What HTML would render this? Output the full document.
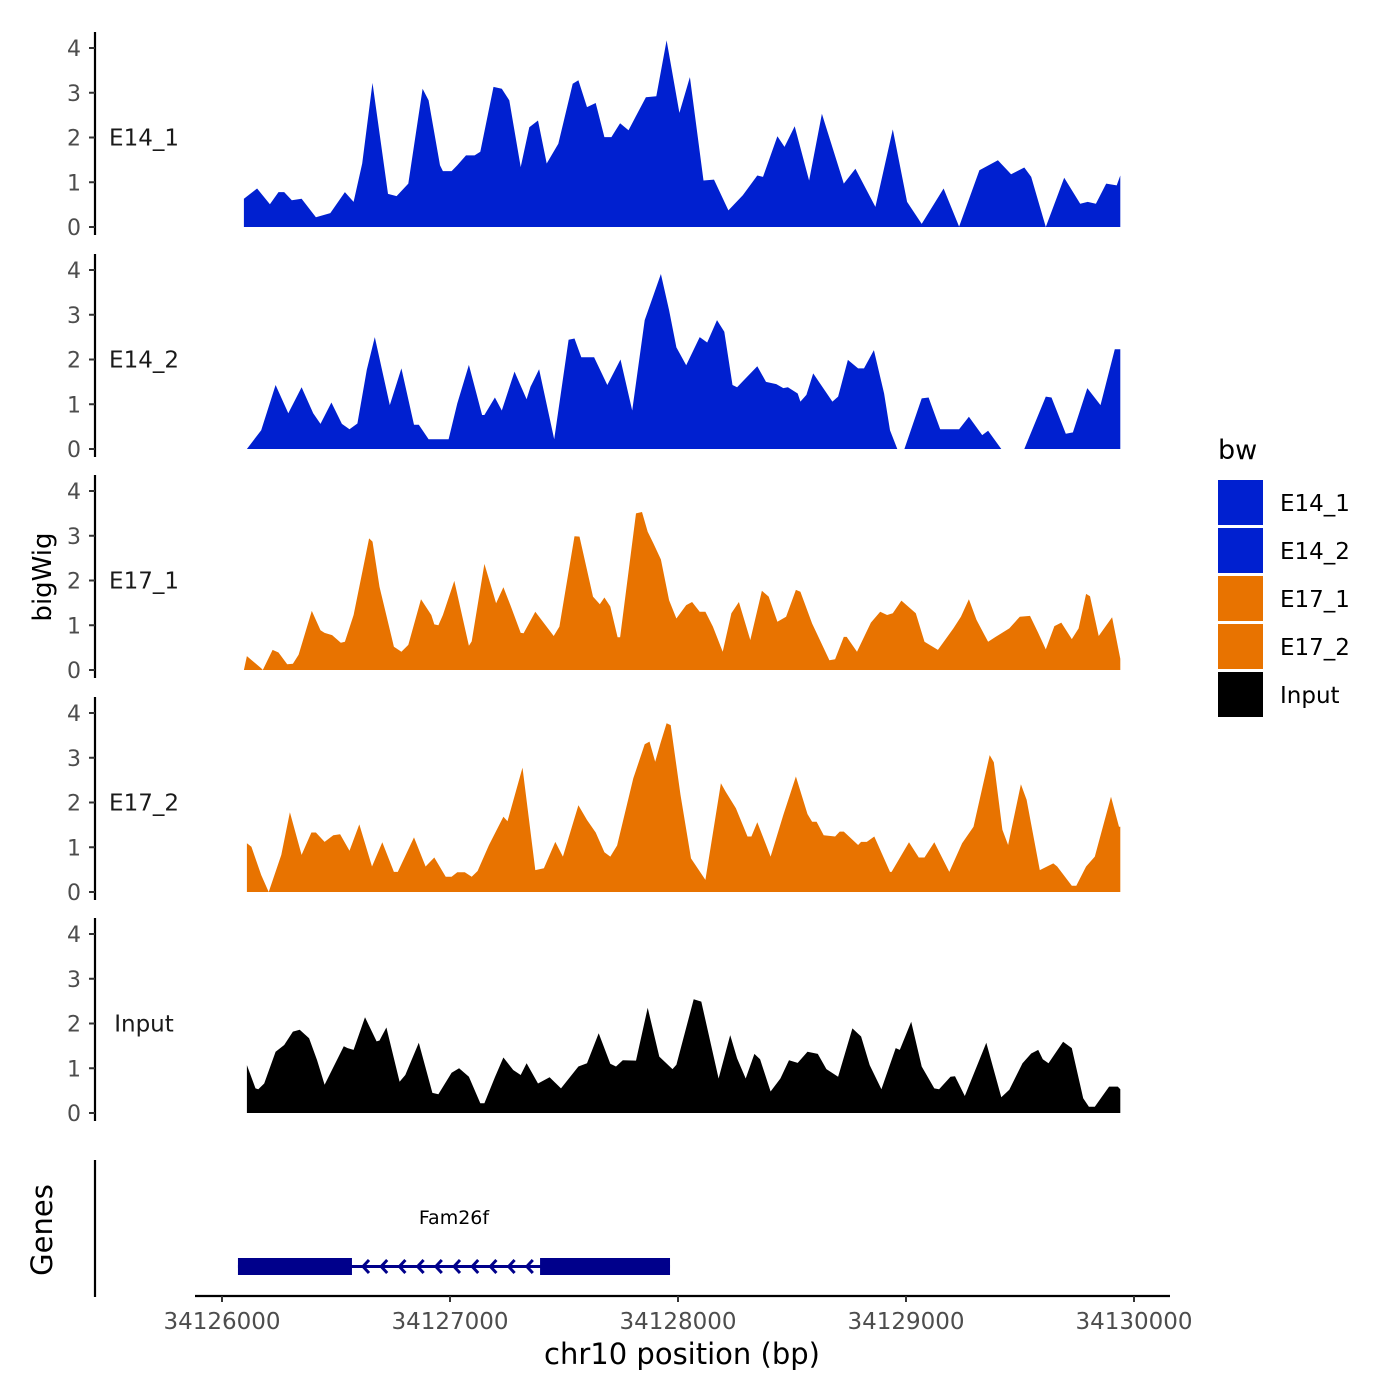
<!DOCTYPE html>
<html><head><meta charset="utf-8"><style>
html,body{margin:0;padding:0;background:#fff;}
svg{display:block;font-family:"DejaVu Sans","Liberation Sans",sans-serif;}
</style></head><body>
<svg id="chart" width="1400" height="1400" viewBox="0 0 1400 1400">
<g id="panels"></g>
<g id="genes"></g>
<g id="xaxis"></g>
<text x="51" y="577" font-size="26" text-anchor="middle" transform="rotate(-90 51 577)">bigWig</text>
<text x="52" y="1230" font-size="29" text-anchor="middle" transform="rotate(-90 52 1230)">Genes</text>
<text x="682" y="1364" font-size="29" text-anchor="middle">chr10 position (bp)</text>
<g id="legend"></g>
</svg>
<script>
const START = 34126000;
const trackNames = ["E14_1","E14_2","E17_1","E17_2","Input"];
const trackColors = ["#0020D0","#0020D0","#E87300","#E87300","#000000"];
const yTicks = [0,1,2,3,4];
const xTicks = [34126000,34127000,34128000,34129000,34130000];

const pos1 = [96,154,210,248,273,306,349,412,475,539,577,615,660,728,766,817,880,906,956,969,1007,1032,1070,1108,1133,1191,1227,1260,1310,1348,1386,1424,1475,1538,1563,1601,1639,1677,1708,1746,1783,1859,1905,1950,2006,2052,2112,2158,2221,2284,2348,2373,2436,2467,2512,2575,2631,2727,2778,2866,2942,3005,3069,3165,3233,3322,3403,3461,3519,3549,3613,3694,3764,3797,3833,3878,3924,3940];
const val1 = [0.63,0.86,0.51,0.78,0.78,0.6,0.63,0.22,0.31,0.78,0.56,1.42,3.22,0.74,0.69,0.97,3.09,2.83,1.38,1.25,1.25,1.38,1.6,1.6,1.68,3.13,3.09,2.83,1.34,2.23,2.38,1.42,1.86,3.2,3.28,2.68,2.77,2.01,2.01,2.32,2.16,2.9,2.92,4.17,2.55,3.35,1.04,1.06,0.37,0.71,1.15,1.12,2.03,1.79,2.25,1.04,2.53,0.97,1.3,0.45,2.18,0.56,0.07,0.86,0.01,1.27,1.49,1.18,1.33,1.12,0,1.1,0.52,0.56,0.52,0.97,0.93,1.15];

const pos2 = [109,172,235,291,349,400,432,480,526,559,594,635,670,736,787,842,863,906,994,1032,1083,1141,1151,1197,1227,1283,1336,1353,1391,1457,1520,1546,1576,1632,1690,1748,1799,1854,1925,1961,1993,2036,2095,2128,2171,2203,2239,2259,2348,2386,2431,2462,2482,2525,2537,2563,2593,2677,2702,2745,2790,2816,2859,2904,2930,2962,2993,3069,3099,3150,3233,3276,3334,3360,3418,3519,3613,3638,3701,3732,3795,3853,3916,3940];
const val2 = [0,0.42,1.43,0.8,1.38,0.8,0.56,1.04,0.56,0.44,0.57,1.77,2.5,0.98,1.8,0.54,0.54,0.22,0.22,1.02,1.88,0.76,0.76,1.15,0.86,1.73,1.11,1.39,1.78,0.22,2.44,2.47,2.05,2.05,1.43,2.0,0.86,2.88,3.91,3.1,2.27,1.87,2.5,2.38,2.88,2.62,1.43,1.38,1.85,1.5,1.45,1.36,1.38,1.24,1.06,1.21,1.69,1.06,1.17,1.99,1.8,1.8,2.21,1.24,0.42,0,0,1.13,1.15,0.44,0.44,0.72,0.31,0.41,0,0,1.17,1.15,0.34,0.37,1.36,0.98,2.23,2.23];

const pos3 = [96,109,172,179,222,248,286,311,336,394,432,450,483,521,539,577,645,660,691,754,787,817,873,918,931,949,969,1019,1083,1095,1151,1202,1234,1267,1310,1323,1374,1455,1480,1546,1568,1627,1657,1677,1703,1735,1746,1816,1842,1867,1892,1925,1961,1993,2036,2062,2095,2120,2153,2196,2234,2267,2317,2368,2398,2436,2474,2517,2537,2588,2664,2689,2727,2740,2785,2846,2887,2917,2942,2980,3018,3043,3081,3140,3208,3241,3276,3309,3360,3393,3453,3499,3544,3580,3613,3651,3681,3727,3757,3790,3807,3845,3904,3940];
const val3 = [0,0.31,0.04,0,0.45,0.39,0.13,0.14,0.34,1.32,0.89,0.83,0.78,0.61,0.63,1.23,2.94,2.87,1.86,0.52,0.41,0.56,1.58,1.23,1.02,1.0,1.23,1.99,0.54,0.64,2.37,1.49,1.85,1.42,0.83,0.82,1.3,0.76,0.97,2.99,2.98,1.64,1.47,1.62,1.42,0.73,0.73,3.5,3.53,3.09,2.83,2.47,1.56,1.15,1.45,1.52,1.3,1.3,0.97,0.41,1.27,1.52,0.67,1.77,1.64,1.08,1.19,1.79,1.75,1.04,0.22,0.24,0.74,0.74,0.41,1.06,1.3,1.23,1.27,1.55,1.38,1.27,0.63,0.45,0.93,1.19,1.58,1.12,0.63,0.74,0.93,1.19,1.21,0.83,0.46,0.98,1.06,0.69,0.93,1.7,1.65,0.76,1.18,0.25];

const pos4 = [109,129,172,205,260,298,349,392,412,450,488,518,559,602,658,703,754,771,842,893,931,981,1007,1032,1065,1095,1121,1171,1234,1252,1318,1374,1412,1462,1495,1563,1601,1639,1677,1703,1733,1804,1854,1875,1900,1923,1950,1968,2011,2057,2120,2188,2209,2254,2305,2322,2348,2406,2462,2517,2568,2588,2608,2639,2689,2709,2727,2790,2803,2828,2861,2930,2937,3013,3056,3081,3124,3190,3246,3296,3367,3385,3423,3448,3504,3529,3587,3646,3663,3727,3747,3790,3828,3899,3934,3940];
const val4 = [1.09,1.01,0.38,0,0.83,1.78,0.83,1.33,1.33,1.12,1.27,1.29,0.92,1.51,0.57,1.11,0.45,0.45,1.22,0.57,0.77,0.34,0.34,0.44,0.44,0.34,0.47,1.05,1.68,1.58,2.78,0.49,0.53,1.12,0.79,1.94,1.61,1.33,0.89,0.79,1.04,2.54,3.3,3.36,2.91,3.32,3.77,3.73,2.17,0.75,0.27,2.43,2.24,1.87,1.24,1.24,1.56,0.79,1.72,2.58,1.74,1.57,1.57,1.27,1.24,1.35,1.35,1.05,1.12,1.12,1.24,0.45,0.45,1.11,0.77,0.77,1.11,0.45,1.09,1.46,3.06,2.9,1.39,1.05,2.41,2.06,0.49,0.64,0.57,0.14,0.14,0.57,0.79,2.13,1.46,1.46];

const pos5 = [109,147,159,185,235,273,311,341,382,417,450,534,551,577,627,678,691,721,779,804,863,923,949,1007,1040,1083,1133,1151,1197,1234,1277,1310,1336,1386,1437,1487,1563,1601,1652,1703,1728,1758,1816,1867,1918,1976,1993,2069,2102,2178,2229,2259,2297,2335,2360,2406,2449,2487,2525,2568,2613,2651,2702,2765,2803,2841,2892,2955,2973,3023,3069,3124,3145,3195,3215,3258,3352,3418,3453,3511,3549,3580,3600,3625,3689,3727,3777,3802,3828,3891,3929,3940];
const val5 = [1.07,0.55,0.53,0.66,1.37,1.52,1.82,1.86,1.67,1.18,0.63,1.49,1.45,1.41,2.14,1.6,1.62,1.91,0.7,0.85,1.57,0.45,0.42,0.9,1.0,0.81,0.22,0.22,0.8,1.24,0.96,0.85,1.11,0.66,0.8,0.55,1.04,1.11,1.78,1.1,1.04,1.18,1.17,2.35,1.26,0.98,1.08,2.54,2.49,0.77,1.74,1.22,0.77,1.32,1.2,0.48,0.77,1.18,1.12,1.37,1.32,0.98,0.81,1.89,1.71,1.07,0.53,1.45,1.41,2.04,1.04,0.55,0.53,0.81,0.82,0.38,1.57,0.35,0.52,1.11,1.33,1.41,1.2,1.11,1.59,1.45,0.33,0.14,0.14,0.59,0.59,0.53];

const geneName = "Fam26f";
const geneStart = 34126070, geneEnd = 34127965;
const exonStarts = [34126070,34127395];
const exonEnds = [34126570,34127965];

const NS='http://www.w3.org/2000/svg';
function mk(tag, attrs, parent){const e=document.createElementNS(NS,tag);for(const k in attrs)e.setAttribute(k,attrs[k]);parent.appendChild(e);return e;}
const xScale = bp => 222 + (bp-34126000)*0.228;
const panelZero = [227,449,670,892,1113];
const yUnit = 44.75;

const allPos = [pos1,pos2,pos3,pos4,pos5];
const allVal = [val1,val2,val3,val4,val5];

const panels = document.getElementById('panels');
trackNames.forEach((name,i)=>{
  const g = mk('g',{},panels);
  
  
  const y0 = panelZero[i];
  const yScale = v => y0 - v*yUnit;
  const ps = allPos[i], vs = allVal[i];
  let d = 'M'+xScale(START+ps[0]).toFixed(1)+','+y0;
  ps.forEach((p,j)=>{ d += ' L'+xScale(START+p).toFixed(1)+','+yScale(vs[j]).toFixed(1); });
  d += ' L'+xScale(START+ps[ps.length-1]).toFixed(1)+','+y0+' Z';
  const area = mk('path',{d:d,fill:trackColors[i]},g);
  
  
  const ax = mk('line',{x1:95,x2:95,y1:y0-195,y2:y0+8,stroke:'#000','stroke-width':2.2},g);
  
  
  yTicks.forEach(t=>{
    const ty = yScale(t);
    const tk = mk('line',{x1:89,x2:95,y1:ty,y2:ty,stroke:'#333','stroke-width':2},g);
    
    
    const tl = mk('text',{x:81,y:ty+8,'font-size':22,fill:'#4d4d4d','text-anchor':'end'},g);
    tl.textContent = t;
    
    
  });
  const lb = mk('text',{x:144,y:yScale(2)+8,'font-size':23,fill:'#1a1a1a','text-anchor':'middle'},g);
  lb.textContent = name;
  
  
});

// genes panel
const gg = document.getElementById('genes');
const gax = mk('line',{x1:95,x2:95,y1:1160,y2:1297,stroke:'#000','stroke-width':2.2},gg);


const gl = mk('line',{x1:xScale(geneStart),x2:xScale(geneEnd),y1:1266.5,y2:1266.5,stroke:'#00008B','stroke-width':3},gg);


exonStarts.forEach((s,i)=>{
  const r = mk('rect',{x:xScale(s),y:1258,width:xScale(exonEnds[i])-xScale(s),height:17,fill:'#00008B'},gg);
  
  
});
for(let k=0;k<10;k++){
  const cx = 363 + k*18.2;
  const ch = mk('path',{d:`M${cx+6},1260 L${cx},1266.5 L${cx+6},1273`,fill:'none',stroke:'#00008B','stroke-width':3},gg);
  
  
}
const gt = mk('text',{x:(xScale(geneStart)+xScale(geneEnd))/2,y:1224,'font-size':19,'text-anchor':'middle',fill:'#000'},gg);
gt.textContent = geneName;



// x axis
const xg = document.getElementById('xaxis');
const xl = mk('line',{x1:195,x2:1170,y1:1296,y2:1296,stroke:'#000','stroke-width':2.2},xg);


xTicks.forEach(t=>{
  const x = xScale(t);
  const tk = mk('line',{x1:x,x2:x,y1:1296,y2:1302,stroke:'#333','stroke-width':2},xg);
  
  
  const tl = mk('text',{x:x,y:1329,'font-size':23,fill:'#4d4d4d','text-anchor':'middle'},xg);
  tl.textContent = t;
  
  
});

// legend
const lg = document.getElementById('legend');
const lt = mk('text',{x:1218,y:459,'font-size':27,fill:'#000'},lg);
lt.textContent = 'bw';


trackNames.forEach((name,i)=>{
  const y = 480 + i*48;
  const r = mk('rect',{x:1218,y:y,width:45,height:45,fill:trackColors[i]},lg);
  
  
  const t = mk('text',{x:1280,y:y+31,'font-size':23,fill:'#000'},lg);
  t.textContent = name;
  
  
});
</script>
</body></html>
